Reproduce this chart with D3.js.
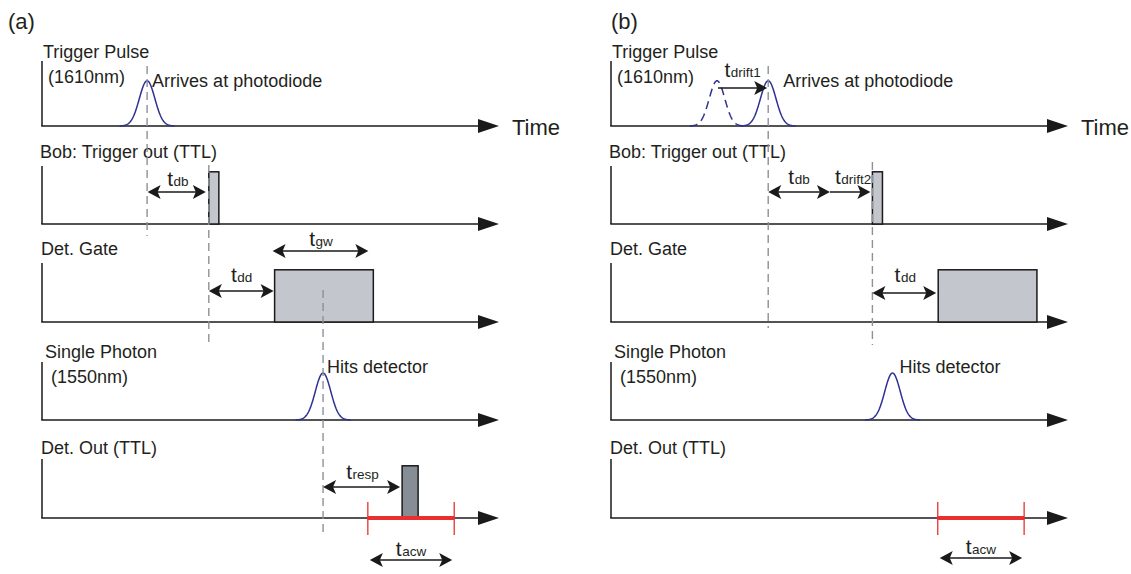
<!DOCTYPE html>
<html>
<head>
<meta charset="utf-8">
<script src="https://cdn.jsdelivr.net/npm/d3@7"></script>
<style>
  body { margin: 0; background: #fff; }
  svg { display: block; }
  text { font-family: "Liberation Sans", Arial, Helvetica, sans-serif; fill: #231f20; }
</style>
</head>
<body>
<svg id="chart" width="1131" height="574"></svg>
<script>
// ---- text ----
const panelTitles = ["(a)", "(b)"];
const rowTitles = ["Trigger Pulse", "Bob: Trigger out (TTL)", "Det. Gate", "Single Photon", "Det. Out (TTL)"];
const rowSubtitles = ["(1610nm)", "", "", "(1550nm)", ""];
const axisName = "Time";
const arrivalNote = "Arrives at photodiode";
const hitNote = "Hits detector";

// ---- timing (arbitrary units, 0–100 along each panel's time axis) ----
const triggerArrival = [23.0, 34.4];   // trigger pulse reaches the photodiode
const earlierArrival = [null, 23.2];   // earlier (undrifted) trigger position
const bobDelay = 13.5;                  // t_db
const bobDrift = [0, 9.3];              // t_drift2
const ttlWidth = 2.2;
const gateDelay = 14.4;                 // t_dd
const gateWidth = 21.6;                 // t_gw
const photonArrival = [61.5, 61.6];
const responseDelay = [17.3, null];     // t_resp
const detPulseWidth = 3.5;
const acwStart = [71.3, 71.5];          // t_acw window
const acwEnd = [90.2, 90.4];

// ---- signal levels (fraction of a row's height) ----
const triggerPeak = 0.78;
const photonPeak = 0.81;
const ttlLevel = 0.9;
const pulseSigma = 1.7;

// ---- layout ----
const svg = d3.select("#chart");
const panelX = [42, 611];
const panelW = 457;
const titleX = [8, 611];
const rowBase = [126, 224, 322, 420, 518];
const rowTop = [61, 166, 263, 362, 459];
const rowH = 58;
const titleDx = [1, -2, -1, 3, -1];
const titleY = [58, 158, 255, 358, 454];
const subDx = [6, 0, 0, 9, 0];
const subY = [83, 0, 0, 383, 0];

const INK = "#1a1a1a", BLUE = "#2e3192", DASH = "#8d9298", RED = "#e8312f";
const GATE_FILL = "#c3c6cc", DET_FILL = "#878d94";

function headPath(x, y, dir) {
  // dart-shaped arrow head with its tip at (x, y), pointing in dir (+1 right, -1 left)
  const L = 13, H = 7, N = 10;
  return `M${x},${y} L${x - dir * L},${y - H} L${x - dir * N},${y} L${x - dir * L},${y + H} Z`;
}

function measure(g, x1, x2, yy, both) {
  g.append("line").attr("x1", x1 + (both ? 6 : 0)).attr("x2", x2 - 6)
    .attr("y1", yy).attr("y2", yy).attr("stroke", INK).attr("stroke-width", 1.5);
  g.append("path").attr("d", headPath(x2, yy, 1)).attr("fill", INK);
  if (both) g.append("path").attr("d", headPath(x1, yy, -1)).attr("fill", INK);
}

function tLabel(g, cx, baseline, sub) {
  const t = g.append("text").attr("x", cx).attr("y", baseline).attr("text-anchor", "middle")
    .attr("font-size", 21);
  t.append("tspan").text("t");
  t.append("tspan").attr("font-size", 13.5).attr("dx", 0.5).text(sub);
}

function marker(g, xx, y1, y2) {
  g.append("line").attr("x1", xx).attr("x2", xx).attr("y1", y1).attr("y2", y2)
    .attr("stroke", DASH).attr("stroke-width", 1.4).attr("stroke-dasharray", "8,5");
}

function pulse(g, x, y, center, peak, dashed) {
  const ts = d3.range(-6, 6.001, 0.1).map(d => center + d);
  const line = d3.line()
    .x(t => x(t))
    .y(t => y(peak * Math.exp(-((t - center) ** 2) / (2 * pulseSigma ** 2))));
  g.append("path").attr("d", line(ts)).attr("fill", "none").attr("stroke", BLUE)
    .attr("stroke-width", 1.5).attr("stroke-dasharray", dashed ? "8,5" : null);
}

panelTitles.forEach((title, p) => {
  const g = svg.append("g");
  const x = d3.scaleLinear().domain([0, 100]).range([panelX[p], panelX[p] + panelW]);
  const y = rowBase.map(b => d3.scaleLinear().domain([0, 1]).range([b, b - rowH]));
  const x0 = x(0), xEnd = x(100);

  g.append("text").attr("x", titleX[p]).attr("y", 29).attr("font-size", 22).text(title);

  // axes and row labels
  rowTitles.forEach((name, r) => {
    g.append("text").attr("x", x0 + titleDx[r]).attr("y", titleY[r]).attr("font-size", 18).text(name);
    if (rowSubtitles[r]) g.append("text").attr("x", x0 + subDx[r]).attr("y", subY[r])
      .attr("font-size", 18).text(rowSubtitles[r]);
    g.append("line").attr("x1", x0).attr("x2", x0).attr("y1", rowTop[r]).attr("y2", rowBase[r])
      .attr("stroke", INK).attr("stroke-width", 1.5);
    g.append("line").attr("x1", x0 - 0.75).attr("x2", xEnd - 18).attr("y1", rowBase[r]).attr("y2", rowBase[r])
      .attr("stroke", INK).attr("stroke-width", 1.5);
    g.append("path").attr("d", `M${xEnd},${rowBase[r]} L${xEnd - 21},${rowBase[r] - 7} L${xEnd - 21},${rowBase[r] + 7} Z`)
      .attr("fill", INK);
  });
  g.append("text").attr("x", xEnd + 13).attr("y", 135).attr("font-size", 22).text(axisName);

  const trig = triggerArrival[p];
  const nominalOut = trig + bobDelay;
  const ttlStart = nominalOut + bobDrift[p];
  const gStart = ttlStart + gateDelay;
  const gEnd = gStart + gateWidth;
  const ph = photonArrival[p];

  // row 0: trigger pulse
  if (earlierArrival[p] !== null) pulse(g, x, y[0], earlierArrival[p], triggerPeak, true);
  pulse(g, x, y[0], trig, triggerPeak, false);

  // row 1: Bob's TTL trigger out
  g.append("rect").attr("x", x(ttlStart)).attr("y", y[1](ttlLevel))
    .attr("width", x(ttlStart + ttlWidth) - x(ttlStart)).attr("height", y[1](0) - y[1](ttlLevel))
    .attr("fill", GATE_FILL).attr("stroke", INK).attr("stroke-width", 1.5);

  // row 2: detector gate
  g.append("rect").attr("x", x(gStart)).attr("y", y[2](ttlLevel))
    .attr("width", x(gEnd) - x(gStart)).attr("height", y[2](0) - y[2](ttlLevel))
    .attr("fill", GATE_FILL).attr("stroke", INK).attr("stroke-width", 1.5);

  // row 3: single photon
  pulse(g, x, y[3], ph, photonPeak, false);

  // row 4: detector output and after-count window
  if (responseDelay[p] !== null) {
    const ds = ph + responseDelay[p];
    g.append("rect").attr("x", x(ds)).attr("y", y[4](ttlLevel))
      .attr("width", x(ds + detPulseWidth) - x(ds)).attr("height", y[4](0) - y[4](ttlLevel))
      .attr("fill", DET_FILL).attr("stroke", INK).attr("stroke-width", 1.5);
  }
  g.append("line").attr("x1", x(acwStart[p])).attr("x2", x(acwEnd[p]))
    .attr("y1", rowBase[4]).attr("y2", rowBase[4]).attr("stroke", RED).attr("stroke-width", 4);
  [acwStart[p], acwEnd[p]].forEach(t => {
    g.append("line").attr("x1", x(t)).attr("x2", x(t)).attr("y1", rowBase[4] - 16).attr("y2", rowBase[4] + 17)
      .attr("stroke", RED).attr("stroke-width", 1.3);
  });

  // dashed time markers
  marker(g, x(trig), 66, p === 0 ? 236 : 328);
  marker(g, x(ttlStart), p === 0 ? 165 : 162, 345);
  if (p === 0) marker(g, x(ph), 290, 532);

  // notes
  g.append("text").attr("x", x(trig) + (p === 0 ? 5 : 15)).attr("y", 87).attr("font-size", 18).text(arrivalNote);
  g.append("text").attr("x", x(ph) + (p === 0 ? 4 : 7)).attr("y", 373).attr("font-size", 18).text(hitNote);

  // interval arrows
  if (p === 0) {
    measure(g, x(trig) + 0.5, x(ttlStart) - 3, 192, true);
    tLabel(g, (x(trig) + x(ttlStart)) / 2, 186, "db");
    measure(g, x(ttlStart), x(gStart) - 1, 291, true);
    tLabel(g, (x(ttlStart) + x(gStart)) / 2, 282, "dd");
    measure(g, x(gStart) - 2, x(gEnd) - 5, 251, true);
    tLabel(g, (x(gStart) + x(gEnd)) / 2 - 3, 246, "gw");
    const ds = ph + responseDelay[p];
    measure(g, x(ph), x(ds) - 2, 487, true);
    tLabel(g, (x(ph) + x(ds)) / 2, 479, "resp");
    measure(g, x(acwStart[p]) + 2, x(acwEnd[p]) - 2, 560, true);
    tLabel(g, (x(acwStart[p]) + x(acwEnd[p])) / 2, 556, "acw");
  } else {
    measure(g, x(earlierArrival[p]) + 1, x(trig) - 1, 88, false);
    tLabel(g, (x(earlierArrival[p]) + x(trig)) / 2, 77, "drift1");
    measure(g, x(trig), x(nominalOut), 192, true);
    tLabel(g, (x(trig) + x(nominalOut)) / 2, 184, "db");
    measure(g, x(nominalOut), x(ttlStart) - 2, 192, false);
    tLabel(g, (x(nominalOut) + x(ttlStart)) / 2 + 2, 184, "drift2");
    measure(g, x(ttlStart), x(gStart) - 2, 293, true);
    tLabel(g, (x(ttlStart) + x(gStart)) / 2, 282, "dd");
    measure(g, x(acwStart[p]) + 2, x(acwEnd[p]) - 2, 558, true);
    tLabel(g, (x(acwStart[p]) + x(acwEnd[p])) / 2, 554, "acw");
  }
});
</script>
</body>
</html>
